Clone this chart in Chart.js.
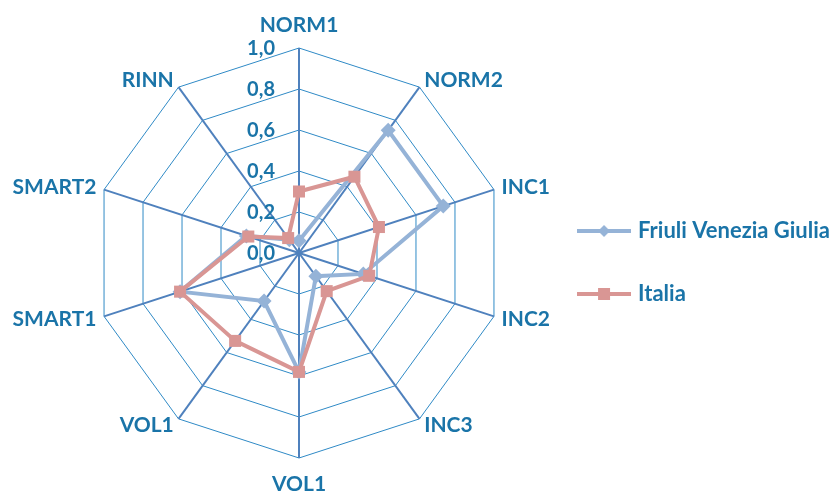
<!DOCTYPE html>
<html>
<head>
<meta charset="utf-8">
<script src="https://cdn.jsdelivr.net/npm/chart.js@4.4.0/dist/chart.umd.min.js"></script>
<style>
  html, body { margin: 0; padding: 0; background: #fff; }
  #wrap { width: 832px; height: 492px; }
</style>
</head>
<body>
<div id="wrap"><canvas id="radarChart" width="832" height="492"></canvas></div>
<script>
const categories = ['NORM1', 'NORM2', 'INC1', 'INC2', 'INC3', 'VOL1', 'VOL1', 'SMART1', 'SMART2', 'RINN'];
const friuli = [0.06, 0.74, 0.74, 0.33, 0.14, 0.58, 0.29, 0.61, 0.27, 0.08];
const italia = [0.30, 0.46, 0.41, 0.36, 0.23, 0.58, 0.53, 0.61, 0.26, 0.09];
const tickLabels = ['0,0', '0,2', '0,4', '0,6', '0,8', '1,0'];

const textColor = '#1a74a8';
const blue = '#95b3d7';
const pink = '#d99694';

// legend samples: a line with the marker in the middle
function legendSample(color, shape) {
  const c = document.createElement('canvas');
  c.width = 54; c.height = 16;
  const g = c.getContext('2d');
  g.strokeStyle = color;
  g.lineWidth = 4;
  g.beginPath(); g.moveTo(0, 8); g.lineTo(54, 8); g.stroke();
  g.fillStyle = color;
  if (shape === 'diamond') {
    g.beginPath(); g.moveTo(27, 2); g.lineTo(33, 8); g.lineTo(27, 14); g.lineTo(21, 8); g.closePath(); g.fill();
  } else {
    g.fillRect(21, 2, 12, 12);
  }
  return c;
}

// tick labels left of the vertical spoke, axis names around the web
const labelPlugin = {
  id: 'radarText',
  beforeDatasetsDraw(chart) {
    const s = chart.scales.r;
    const ctx = chart.ctx;
    ctx.save();
    ctx.font = 'bold 20px Lato';
    ctx.fillStyle = textColor;
    ctx.textAlign = 'right';
    ctx.textBaseline = 'middle';
    s.ticks.forEach((t, i) => {
      const d = s.getDistanceFromCenterForValue(t.value);
      ctx.fillText(tickLabels[i], s.xCenter - 24, s.yCenter - d + 1);
    });
    ctx.restore();
  },
  afterDraw(chart) {
    const s = chart.scales.r;
    const ctx = chart.ctx;
    ctx.save();
    ctx.font = 'bold 21px Lato';
    ctx.fillStyle = textColor;
    ctx.textBaseline = 'middle';
    categories.forEach((name, i) => {
      const p = s.getPointPosition(i, s.drawingArea + 8);
      const deg = Math.round(s.getIndexAngle(i) * 180 / Math.PI) % 360;
      let y = p.y;
      if (deg === 0) { ctx.textAlign = 'center'; y -= 15; }
      else if (deg === 180) { ctx.textAlign = 'center'; y += 18; }
      else if (deg < 180) ctx.textAlign = 'left';
      else ctx.textAlign = 'right';
      ctx.fillText(name, p.x, y);
    });
    ctx.restore();
  }
};

new Chart(document.getElementById('radarChart'), {
  type: 'radar',
  data: {
    labels: categories,
    datasets: [{
      label: 'Friuli Venezia Giulia',
      data: friuli,
      order: 1,
      borderColor: blue,
      backgroundColor: blue,
      borderWidth: 4,
      pointStyle: 'rectRot',
      pointRadius: 7.5,
      pointBorderWidth: 0,
      fill: false
    }, {
      label: 'Italia',
      data: italia,
      order: 0,
      borderColor: pink,
      backgroundColor: pink,
      borderWidth: 4,
      pointStyle: 'rect',
      pointRadius: 8.5,
      pointBorderWidth: 0,
      fill: false
    }]
  },
  options: {
    responsive: false,
    animation: false,
    layout: { padding: { left: 59, right: -8, top: 48, bottom: 34 } },
    plugins: {
      legend: {
        position: 'right',
        title: { display: true, text: '', font: { size: 10, lineHeight: 1 }, padding: { top: 9, bottom: 0 } },
        labels: {
          usePointStyle: true,
          pointStyleWidth: 46,
          padding: 41,
          color: textColor,
          font: { family: 'Lato', size: 22, weight: 'bold' },
          generateLabels(chart) {
            return chart.data.datasets.map((ds, i) => ({
              text: ds.label,
              fontColor: textColor,
              pointStyle: legendSample(ds.borderColor, i === 0 ? 'diamond' : 'square'),
              lineWidth: 0,
              strokeStyle: 'transparent',
              fillStyle: 'transparent',
              datasetIndex: i
            }));
          }
        }
      },
      tooltip: { enabled: false }
    },
    scales: {
      r: {
        min: 0,
        max: 1,
        ticks: { stepSize: 0.2, display: false },
        grid: { color: '#2f8ac6', lineWidth: 1 },
        angleLines: { color: '#4f81bd', lineWidth: 2 },
        pointLabels: { display: false }
      }
    }
  },
  plugins: [labelPlugin]
});
</script>
</body>
</html>
